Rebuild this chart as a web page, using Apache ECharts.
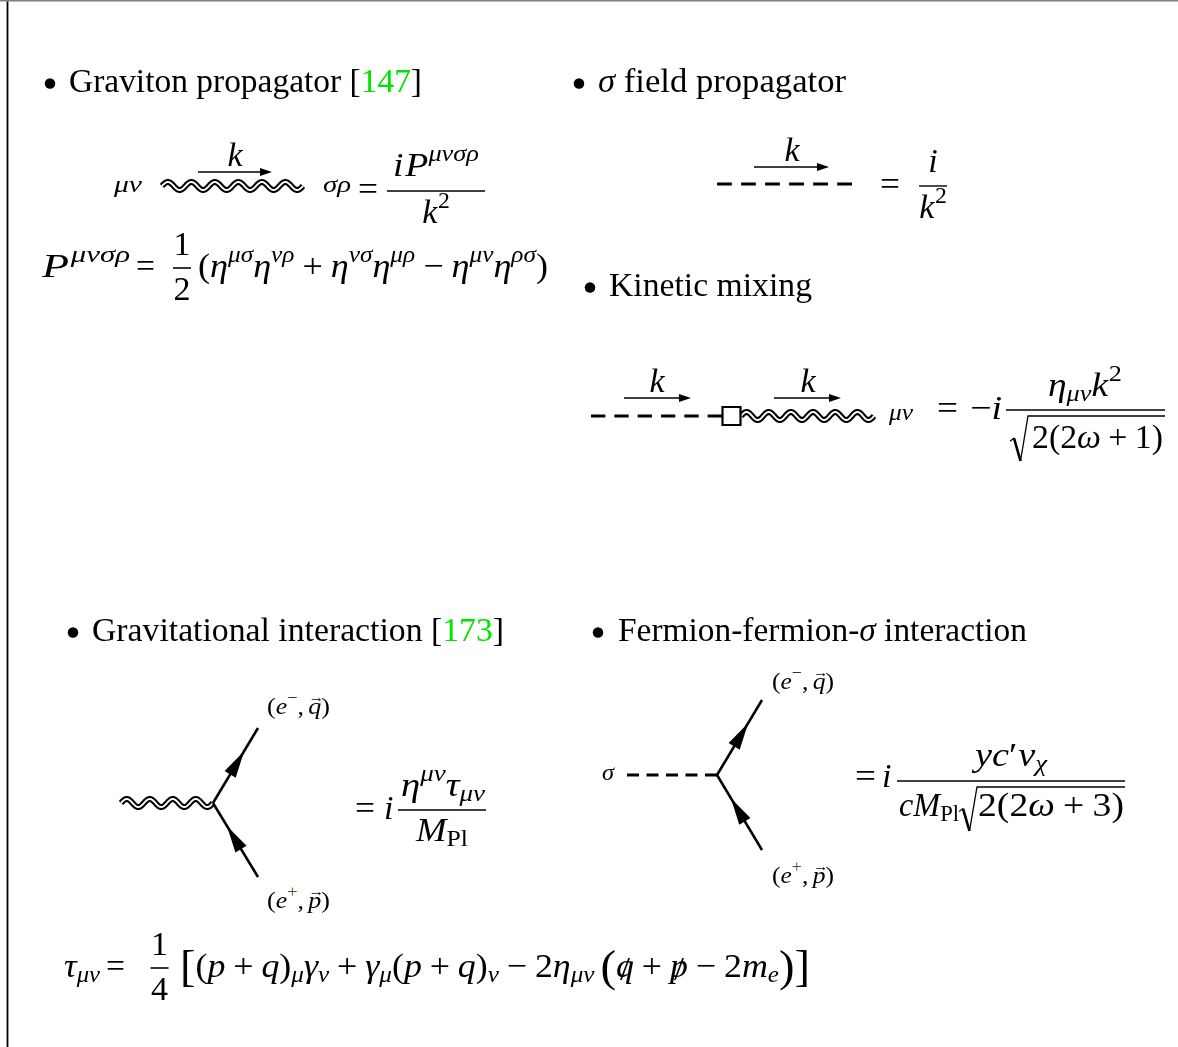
<!DOCTYPE html>
<html>
<head>
<meta charset="utf-8">
<script src="https://cdn.jsdelivr.net/npm/echarts@6/dist/echarts.min.js"></script>
<style>
html,body{margin:0;padding:0;background:#fff;}
#chart{width:1178px;height:1047px;}
</style>
</head>
<body>
<div id="chart"></div>
<script>
// ---------------- data (figure units, drawn through hidden value axes) ----------------
const frameTop = [[0, 0.75, 1178, 0.75]];
const frameLeft = [[7.5, 1.5, 7.5, 1047]];
const bullets = [[50, 83.5], [579, 83.5], [590, 287.5], [73, 632.5], [598, 632.5]];
const gravitonLines = [[162, 186, 303, 186], [741, 416, 874, 416], [121, 803, 213, 803]];
const scalarLines = [[717, 184, 852, 184], [591, 416, 722, 416], [627, 775, 717, 775]];
const scalarDashCounts = [6, 6, 5];
const fermionLines = [[258, 877, 213, 803], [213, 803, 258, 728], [762, 850, 717, 775], [717, 775, 762, 700]];
const momentumArrows = [[198, 172, 272, 172], [754, 167, 829, 167], [624, 398, 691, 398], [774, 398, 841, 398]];
const vertexBoxes = [[731.5, 416]];
const fractionBars = [[387, 191, 485, 191], [919, 186, 947, 186], [1006, 410, 1165, 410],
                      [398, 810, 486, 810], [897, 781, 1125, 781]];
const numericFractionBarCentres = [[182, 268], [159.5, 968]];   // bars of 1/2 and 1/4
const radicals = [[1010, 416, 1165, 461], [959, 787, 1125, 831]];

// text tokens: [text, style] or number (extra space in em)
const eMinusQ = [['(', 'r'], ['e', 'i'], ['−', 'rp'], [',', 'r'], 0.17, ['q', 'i'], ['→', 'acc', 'over', -0.5], [')', 'r']];
const ePlusP = [['(', 'r'], ['e', 'i'], ['+', 'rpc'], [',', 'r'], 0.17, ['p', 'i'], ['→', 'acc', 'over', -0.5], [')', 'r']];
const pTensor = [['(', 'r'], ['η', 'i'], ['μσ', 'ip'], ['η', 'i'], ['νρ', 'ip'], 0.22, ['+', 'r'], 0.22,
                 ['η', 'i'], ['νσ', 'ip'], ['η', 'i'], ['μρ', 'ip'], 0.22, ['−', 'r'], 0.22,
                 ['η', 'i'], ['μν', 'ip'], ['η', 'i'], ['ρσ', 'ip'], [')', 'r']];
const tauTokens = [['[', 'B'], ['(', 'r'], ['p', 'i'], 0.22, ['+', 'r'], 0.22, ['q', 'i'], [')', 'r'], ['μ', 'ib'], ['γ', 'i'], ['ν', 'ib'],
                   0.22, ['+', 'r'], 0.22, ['γ', 'i'], ['μ', 'ib'], ['(', 'r'], ['p', 'i'], 0.22, ['+', 'r'], 0.22, ['q', 'i'], [')', 'r'], ['ν', 'ib'],
                   0.22, ['−', 'r'], 0.22, ['2', 'r'], ['η', 'i'], ['μν', 'ib'], 0.17, ['(', 'B'], ['q', 'i'], ['/', 'r', 'over', 0.08],
                   0.22, ['+', 'r'], 0.22, ['p', 'i'], ['/', 'r', 'over', 0.08], 0.22, ['−', 'r'], 0.22, ['2', 'r'], ['m', 'i'], ['e', 'ib'],
                   [')', 'B'], [']', 'B']];

const formulas = [
  // section headings
  {x: 69, y: 92, s: 34, w: 353, t: [['Graviton propagator [', 'r'], ['147', 'g'], [']', 'r']]},
  {x: 598, y: 92, s: 34, w: 248, t: [['σ', 'i'], [' field propagator', 'r']]},
  {x: 609, y: 296, s: 34, w: 203, t: [['Kinetic mixing', 'r']]},
  {x: 92, y: 641, s: 34, w: 412, t: [['Gravitational interaction [', 'r'], ['173', 'g'], [']', 'r']]},
  {x: 618, y: 641, s: 34, w: 409, t: [['Fermion-fermion-', 'r'], ['σ', 'i'], [' interaction', 'r']]},
  // graviton propagator
  {x: 114, y: 192, s: 24, w: 28, t: [['μν', 'i']]},
  {cx: 235, y: 166, s: 34, t: [['k', 'i']]},
  {x: 323, y: 192, s: 24, w: 28, t: [['σρ', 'i']]},
  {x: 358, y: 199.5, s: 34, w: 20, t: [['=', 'r']]},
  {cx: 436, y: 176, s: 34, w: 86, t: [['i', 'i'], 0.05, ['P', 'i'], ['μνσρ', 'ip']]},
  {cx: 436, y: 223, s: 34, t: [['k', 'i'], 0.02, ['2', 'rp']]},
  {x: 42, y: 277, s: 34, w: 88, t: [['P', 'i'], 0.04, ['μνσρ', 'ip']]},
  {x: 136, y: 277, s: 34, w: 19, t: [['=', 'r']]},
  {cx: 182, y: 255, s: 34, t: [['1', 'r']]},
  {cx: 182, y: 300, s: 34, t: [['2', 'r']]},
  {x: 198, y: 277, s: 34, w: 350, t: pTensor},
  // sigma propagator
  {cx: 792, y: 161, s: 34, t: [['k', 'i']]},
  {x: 880, y: 194.5, s: 34, w: 20, t: [['=', 'r']]},
  {cx: 933, y: 172, s: 34, t: [['i', 'i']]},
  {cx: 933, y: 218, s: 34, t: [['k', 'i'], 0.02, ['2', 'rp']]},
  // kinetic mixing
  {cx: 657, y: 392, s: 34, t: [['k', 'i']]},
  {cx: 808, y: 392, s: 34, t: [['k', 'i']]},
  {x: 889, y: 420, s: 24, w: 24, t: [['μν', 'i']]},
  {x: 937, y: 418.5, s: 34, w: 21, t: [['=', 'r']]},
  {x: 970, y: 418.5, s: 34, w: 32, t: [['−', 'r'], ['i', 'i']]},
  {cx: 1085, y: 396, s: 34, w: 74, t: [['η', 'i'], ['μν', 'ib'], ['k', 'i'], 0.02, ['2', 'rp']]},
  {x: 1032, y: 448, s: 34, w: 131, t: [['2(2', 'r'], ['ω', 'i'], 0.22, ['+', 'r'], 0.22, ['1)', 'r']]},
  // gravitational interaction
  {x: 267, y: 714, s: 24, w: 63, t: eMinusQ},
  {x: 267, y: 908, s: 24, w: 63, t: ePlusP},
  {x: 355, y: 818.5, s: 34, w: 20, t: [['=', 'r']]},
  {x: 384, y: 818.5, s: 34, t: [['i', 'i']]},
  {cx: 443, y: 796, s: 34, w: 84, t: [['η', 'i'], ['μν', 'ip'], ['τ', 'i'], ['μν', 'ib']]},
  {cx: 442, y: 841, s: 34, w: 52, t: [['M', 'i'], ['Pl', 'rb']]},
  // fermion-fermion-sigma interaction
  {x: 602, y: 780, s: 24, w: 12, t: [['σ', 'i']]},
  {x: 772, y: 689, s: 24, w: 62, t: eMinusQ},
  {x: 772, y: 883, s: 24, w: 62, t: ePlusP},
  {x: 855, y: 786.5, s: 34, w: 21, t: [['=', 'r']]},
  {x: 882, y: 786.5, s: 34, t: [['i', 'i']]},
  {cx: 1011, y: 766, s: 34, w: 72, t: [['y', 'i'], ['c', 'i'], ['′', 'r'], 0.02, ['v', 'i'], ['χ', 'ib']]},
  {x: 899, y: 816, s: 34, w: 60, t: [['c', 'i'], ['M', 'i'], ['Pl', 'rb']]},
  {x: 978, y: 816, s: 34, w: 146, t: [['2(2', 'r'], ['ω', 'i'], 0.22, ['+', 'r'], 0.22, ['3)', 'r']]},
  // tau definition
  {x: 64, y: 977, s: 34, w: 36, t: [['τ', 'i'], ['μν', 'ib']]},
  {x: 106, y: 977, s: 34, w: 19, t: [['=', 'r']]},
  {cx: 159.5, y: 955, s: 34, t: [['1', 'r']]},
  {cx: 159.5, y: 1000, s: 34, t: [['4', 'r']]},
  {x: 180, y: 977, s: 34, w: 630, t: tauTokens}
];

// ---------------- styles ----------------
const GREEN = '#00e400';
const STY = {
  r: {it: 0, sc: 1, dy: 0},
  i: {it: 1, sc: 1, dy: 0},
  g: {it: 0, sc: 1, dy: 0, color: GREEN},
  ip: {it: 1, sc: 0.7, dy: -0.45},
  rp: {it: 0, sc: 0.7, dy: -0.45},
  rpc: {it: 0, sc: 0.7, dy: -0.45, color: '#6e4520'},
  ib: {it: 1, sc: 0.7, dy: 0.15},
  rb: {it: 0, sc: 0.7, dy: 0.15},
  B: {it: 0, sc: 1.3, dy: 0.12},
  acc: {it: 0, sc: 0.6, dy: 0, dx: 0.06}
};
const FAMILY = '"Liberation Serif", "DejaVu Serif", serif';
const WAVE_PERIOD = 23.5, WAVE_AMP = 4.0;

// ---------------- layout of text runs ----------------
const mctx = document.createElement('canvas').getContext('2d');
const offCache = {};
function fontOf(st, size) { return (st.it ? 'italic ' : '') + size.toFixed(2) + 'px ' + FAMILY; }
function midOffset(font) {
  if (offCache[font] != null) return offCache[font];
  mctx.font = font;
  mctx.textBaseline = 'alphabetic';
  const a = mctx.measureText('H').actualBoundingBoxAscent;
  mctx.textBaseline = 'middle';
  const b = mctx.measureText('H').actualBoundingBoxAscent;
  mctx.textBaseline = 'alphabetic';
  offCache[font] = a - b;
  return a - b;
}
function layout(f) {
  const s = f.s; let x = 0; const out = []; let prev = null;
  for (const tk of f.t) {
    if (typeof tk === 'number') { x += tk * s; continue; }
    const [txt, code, mode, dyEm] = tk;
    const st = STY[code];
    const size = s * st.sc;
    const font = fontOf(st, size);
    mctx.font = font;
    const w = mctx.measureText(txt).width;
    const color = st.color || '#000';
    if (mode === 'over' && prev) {
      const cx = prev.x + prev.w / 2 + (st.dx || 0) * s;
      out.push({x: cx - w / 2, y: (dyEm || 0) * s, txt, font, color, w});
    } else {
      const run = {x, y: st.dy * s, txt, font, color, w};
      out.push(run); prev = run; x += w;
    }
  }
  const W = x;
  const k = f.w ? f.w / W : 1;
  const x0 = f.x != null ? f.x : f.cx - (W * k) / 2;
  return out.map(r => ({x: x0 + r.x * k, y: f.y + r.y, txt: r.txt, font: r.font, color: r.color, k, off: midOffset(r.font)}));
}
const runs = [];
formulas.forEach(f => layout(f).forEach(r => runs.push(r)));

// ---------------- render helpers ----------------
function segRender(width, color) {
  return function (p, api) {
    const a = api.coord([api.value(0), api.value(1)]);
    const b = api.coord([api.value(2), api.value(3)]);
    return {type: 'line', shape: {x1: a[0], y1: a[1], x2: b[0], y2: b[1]},
            style: {stroke: color, lineWidth: width, lineCap: 'butt'}};
  };
}
function dashRender(p, api) {
  const a = api.coord([api.value(0), api.value(1)]);
  const b = api.coord([api.value(2), api.value(3)]);
  const L = Math.hypot(b[0] - a[0], b[1] - a[1]);
  const n = scalarDashCounts[p.dataIndex];
  const d = L / (n + (n - 1) / 1.6);
  return {type: 'line', shape: {x1: a[0], y1: a[1], x2: b[0], y2: b[1]},
          style: {stroke: '#000', lineWidth: 3, lineDash: [d, d / 1.6], lineCap: 'butt'}};
}
function waveRender(p, api) {
  const a = api.coord([api.value(0), api.value(1)]);
  const b = api.coord([api.value(2), api.value(3)]);
  const dx = b[0] - a[0], dy = b[1] - a[1], L = Math.hypot(dx, dy);
  const ux = dx / L, uy = dy / L, nx = -uy, ny = ux;
  const n = Math.max(1, Math.round(L / WAVE_PERIOD)), per = L / n;
  const pts = [];
  for (let s = 0; s <= L + 0.01; s += 0.5) {
    const o = -WAVE_AMP * Math.sin(2 * Math.PI * s / per);
    pts.push([a[0] + ux * s + nx * o, a[1] + uy * s + ny * o]);
  }
  return {type: 'group', children: [
    {type: 'polyline', shape: {points: pts}, style: {stroke: '#000', lineWidth: 6, fill: null, lineJoin: 'round'}},
    {type: 'polyline', shape: {points: pts}, style: {stroke: '#fff', lineWidth: 1.9, fill: null, lineJoin: 'round'}}
  ]};
}
function fermionRender(p, api) {
  const a = api.coord([api.value(0), api.value(1)]);
  const b = api.coord([api.value(2), api.value(3)]);
  const dx = b[0] - a[0], dy = b[1] - a[1], L = Math.hypot(dx, dy);
  const ux = dx / L, uy = dy / L, nx = -uy, ny = ux;
  const tipT = 0.69 * L, len = 27, hw = 6.5;
  const tip = [a[0] + ux * tipT, a[1] + uy * tipT];
  const base = [tip[0] - ux * len, tip[1] - uy * len];
  return {type: 'group', children: [
    {type: 'line', shape: {x1: a[0], y1: a[1], x2: b[0], y2: b[1]}, style: {stroke: '#000', lineWidth: 2.5, lineCap: 'butt'}},
    {type: 'polygon', shape: {points: [tip, [base[0] + nx * hw, base[1] + ny * hw], [base[0] - nx * hw, base[1] - ny * hw]]},
     style: {fill: '#000', stroke: null}}
  ]};
}
function momentumRender(p, api) {
  const a = api.coord([api.value(0), api.value(1)]);
  const b = api.coord([api.value(2), api.value(3)]);
  const dx = b[0] - a[0], dy = b[1] - a[1], L = Math.hypot(dx, dy);
  const ux = dx / L, uy = dy / L, nx = -uy, ny = ux;
  const len = 12, hw = 4;
  const base = [b[0] - ux * len, b[1] - uy * len];
  return {type: 'group', children: [
    {type: 'line', shape: {x1: a[0], y1: a[1], x2: base[0] + ux * 2, y2: base[1] + uy * 2}, style: {stroke: '#000', lineWidth: 1.3}},
    {type: 'polygon', shape: {points: [b, [base[0] + nx * hw, base[1] + ny * hw], [base[0] - nx * hw, base[1] - ny * hw]]},
     style: {fill: '#000', stroke: null}}
  ]};
}
function radicalRender(p, api) {
  const xl = api.value(0), v = api.value(1), xe = api.value(2), yb = api.value(3);
  const H = yb - v;
  const P = pt => api.coord(pt);
  const p0 = P([xl, v + 0.56 * H]), p1 = P([xl + 4, v + 0.49 * H]), p2 = P([xl + 10.5, yb]), p3 = P([xl + 18, v]), p4 = P([xe, v]);
  return {type: 'group', children: [
    {type: 'polyline', shape: {points: [p0, p1]}, style: {stroke: '#000', lineWidth: 1.2, fill: null}},
    {type: 'line', shape: {x1: p1[0], y1: p1[1], x2: p2[0], y2: p2[1]}, style: {stroke: '#000', lineWidth: 2.6}},
    {type: 'polyline', shape: {points: [p2, p3, p4]}, style: {stroke: '#000', lineWidth: 1.3, fill: null, lineJoin: 'miter'}}
  ]};
}
function textRender(p, api) {
  const r = runs[p.dataIndex];
  const c = api.coord([api.value(0), api.value(1)]);
  return {type: 'text', x: c[0], y: c[1] - r.off, scaleX: r.k, scaleY: 1,
          style: {text: r.txt, font: r.font, fill: r.color, textFill: r.color,
                  align: 'left', verticalAlign: 'middle', textAlign: 'left', textVerticalAlign: 'middle'}};
}

const base = {type: 'custom', coordinateSystem: 'cartesian2d', silent: true, clip: false, animation: false, encode: {x: [0, 2], y: [1, 3]}};

const chart = echarts.init(document.getElementById('chart'), null, {renderer: 'canvas'});
chart.setOption({
  backgroundColor: '#ffffff',
  animation: false,
  grid: {left: 0, right: 0, top: 0, bottom: 0, containLabel: false},
  xAxis: {type: 'value', min: 0, max: 1178, show: false},
  yAxis: {type: 'value', min: 0, max: 1047, inverse: true, show: false},
  series: [
    Object.assign({}, base, {name: 'frame top', data: frameTop, renderItem: segRender(1.5, '#808080'), z: 1}),
    Object.assign({}, base, {name: 'frame left', data: frameLeft, renderItem: segRender(1.8, '#000'), z: 1}),
    Object.assign({}, base, {name: 'fraction bars', data: fractionBars, renderItem: segRender(1.4, '#000'), z: 2}),
    {type: 'scatter', name: 'numeric fraction bars', data: numericFractionBarCentres, symbol: 'rect', symbolSize: [18, 1.6],
     silent: true, animation: false, itemStyle: {color: '#000', opacity: 1, borderWidth: 0}, z: 6},
    Object.assign({}, base, {name: 'radicals', data: radicals, renderItem: radicalRender, z: 2}),
    Object.assign({}, base, {name: 'scalar', data: scalarLines, renderItem: dashRender, z: 2}),
    Object.assign({}, base, {name: 'graviton', data: gravitonLines, renderItem: waveRender, z: 3}),
    Object.assign({}, base, {name: 'fermion', data: fermionLines, renderItem: fermionRender, z: 3}),
    Object.assign({}, base, {name: 'momentum', data: momentumArrows, renderItem: momentumRender, z: 3}),
    {type: 'scatter', name: 'vertex box', data: vertexBoxes, symbol: 'rect', symbolSize: 18, silent: true, animation: false,
     itemStyle: {color: '#fff', borderColor: '#000', borderWidth: 2.2, opacity: 1}, z: 4},
    {type: 'scatter', name: 'bullets', data: bullets, symbol: 'circle', symbolSize: 10.5, silent: true, animation: false,
     itemStyle: {color: '#000', opacity: 1}, z: 4},
    Object.assign({}, base, {name: 'text', encode: {x: 0, y: 1}, data: runs.map(r => [r.x, r.y]), renderItem: textRender, z: 5})
  ]
});
</script>
</body>
</html>
